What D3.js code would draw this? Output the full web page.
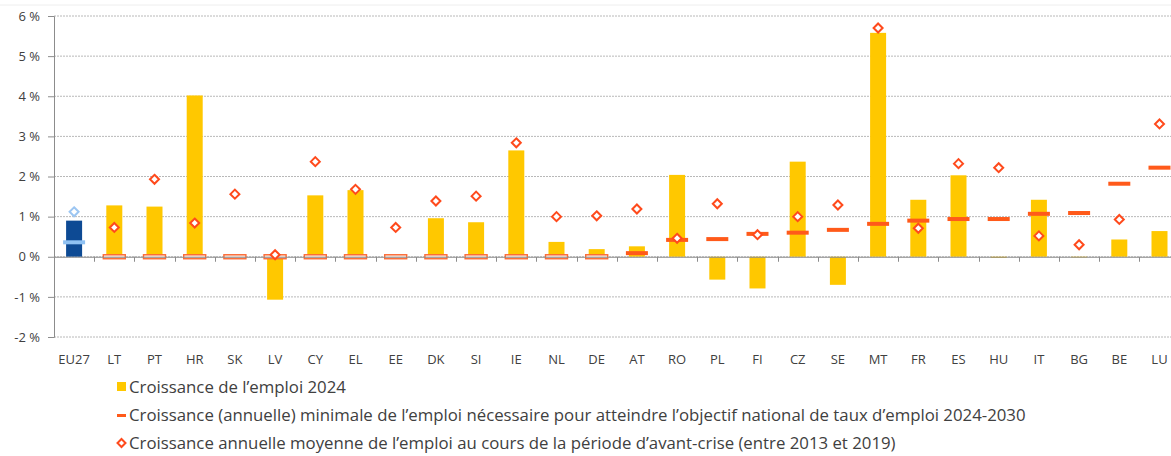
<!DOCTYPE html>
<html>
<head>
<meta charset="utf-8">
<script src="https://cdn.jsdelivr.net/npm/d3@7"></script>
<style>
  body { margin: 0; background: #fff; }
  text { font-family: "Open Sans", sans-serif; fill: #404040; }
</style>
</head>
<body>
<div id="chart"></div>
<script>
var countries = ["EU27","LT","PT","HR","SK","LV","CY","EL","EE","DK","SI","IE","NL","DE","AT","RO","PL","FI","CZ","SE","MT","FR","ES","HU","IT","BG","BE","LU"];
// croissance de l'emploi 2024
var growth2024 = [0.9,1.28,1.25,4.02,0,-1.07,1.53,1.66,0,0.96,0.86,2.65,0.37,0.19,0.26,2.04,-0.57,-0.79,2.37,-0.70,5.58,1.42,2.03,-0.03,1.42,-0.02,0.43,0.64];
// croissance minimale nécessaire
var required = [0.36,0,0,0,0,0,0,0,0,0,0,0,0,0,0.09,0.42,0.44,0.57,0.60,0.67,0.82,0.90,0.94,0.94,1.07,1.09,1.82,2.22];
// croissance moyenne 2013-2019
var preCrisis = [1.12,0.73,1.93,0.84,1.56,0.05,2.37,1.68,0.73,1.39,1.51,2.84,1.0,1.02,1.19,0.46,1.32,0.55,1.0,1.29,5.70,0.71,2.32,2.22,0.52,0.30,0.93,3.31];
var yTicks = [-2,-1,0,1,2,3,4,5,6];
var legendLabels = [
  "Croissance de l\u2019emploi 2024",
  "Croissance (annuelle) minimale de l\u2019emploi n\u00e9cessaire pour atteindre l\u2019objectif national de taux d\u2019emploi 2024-2030",
  "Croissance annuelle moyenne de l\u2019emploi au cours de la p\u00e9riode d\u2019avant-crise (entre 2013 et 2019)"
];

var width = 1171, height = 456;
var left = 54;

var svg = d3.select("#chart").append("svg").attr("width", width).attr("height", height);

var y = d3.scaleLinear().domain([-2, 6]).range([337, 16]);
var x = d3.scaleBand().domain(countries).range([left, left + 28 * 40.2]);

var data = countries.map(function(c, i) {
  return {c: c, g: growth2024[i], r: required[i], p: preCrisis[i], eu: c == "EU27"};
});

// frame line on top
svg.append("line").attr("x1", 0).attr("x2", width).attr("y1", 5).attr("y2", 5)
  .attr("stroke", "#eeeeee");

// gridlines
svg.selectAll("line.grid").data(yTicks).enter().append("line")
  .attr("class", "grid")
  .attr("x1", left).attr("x2", width)
  .attr("y1", function(d) { return y(d); }).attr("y2", function(d) { return y(d); })
  .attr("stroke", "#b8b8b8").attr("stroke-dasharray", "2,1");

// y axis
var yAxis = d3.axisLeft(y).tickValues(yTicks).tickSize(6).tickPadding(8)
  .tickFormat(function(d) { return d + " %"; });
var ya = svg.append("g").attr("transform", "translate(" + left + ",0)").call(yAxis);
ya.select(".domain").attr("stroke", "#8c8c8c");
ya.selectAll(".tick line").attr("stroke", "#8c8c8c");
ya.selectAll(".tick text").attr("font-size", 13).attr("fill", "#404040").attr("font-family", "Open Sans");

// bars
svg.selectAll("rect.bar").data(data).enter().append("rect")
  .attr("class", "bar")
  .attr("x", function(d) { return x(d.c) + x.bandwidth() / 2 - 8; })
  .attr("width", 16)
  .attr("y", function(d) { return y(Math.max(0, d.g)); })
  .attr("height", function(d) { return Math.abs(y(d.g) - y(0)); })
  .attr("fill", function(d) { return d.eu ? "#0d4a94" : "#ffc800"; });

// required growth dashes
svg.selectAll("rect.req").data(data).enter().append("rect")
  .attr("class", "req")
  .attr("x", function(d) { return x(d.c) + x.bandwidth() / 2 - 11; })
  .attr("width", 22)
  .attr("y", function(d) { return y(d.r) - 2; })
  .attr("height", 4)
  .attr("fill", function(d) { return d.eu ? "#8fc1f2" : (d.r == 0 ? "#fbe6dc" : "#ff5a1a"); })
  .attr("stroke", function(d) { return d.r == 0 && !d.eu ? "#fb6a35" : "none"; })
  .attr("stroke-width", 1.4);

// x axis at zero
var xAxis = d3.axisBottom(x).tickSize(0).tickFormat("");
var xa = svg.append("g").attr("transform", "translate(0," + y(0) + ")").call(xAxis);
xa.select(".domain").attr("stroke", "#8c8c8c").attr("d", "M" + left + ",0.5H" + width);
svg.selectAll("line.xtick").data(countries.slice(1)).enter().append("line")
  .attr("class", "xtick")
  .attr("x1", function(d) { return Math.round(x(d)) + 0.5; })
  .attr("x2", function(d) { return Math.round(x(d)) + 0.5; })
  .attr("y1", y(0)).attr("y2", y(0) + 5)
  .attr("stroke", "#8c8c8c");

// diamonds
svg.selectAll("path.pre").data(data).enter().append("path")
  .attr("class", "pre")
  .attr("transform", function(d) { return "translate(" + (x(d.c) + x.bandwidth() / 2) + "," + y(d.p) + ")"; })
  .attr("d", "M0,-4.5L4.5,0L0,4.5L-4.5,0Z")
  .attr("fill", "#fff")
  .attr("stroke", function(d) { return d.eu ? "#9cc6f2" : "#ff4a1c"; })
  .attr("stroke-width", 2);

// category labels
svg.selectAll("text.cat").data(countries).enter().append("text")
  .attr("class", "cat")
  .attr("x", function(d) { return x(d) + x.bandwidth() / 2; })
  .attr("y", 364)
  .attr("text-anchor", "middle")
  .attr("font-size", 13)
  .text(function(d) { return d; });

// legend
var lg = svg.append("g");
var rowsY = [387, 415, 443];
lg.append("rect").attr("x", 117).attr("y", rowsY[0] - 5).attr("width", 9).attr("height", 9).attr("fill", "#ffc800");
lg.append("rect").attr("x", 117).attr("y", rowsY[1] - 1).attr("width", 9).attr("height", 3).attr("fill", "#ff5a1a");
lg.append("path").attr("transform", "translate(121.5," + rowsY[2] + ")")
  .attr("d", "M0,-4L4,0L0,4L-4,0Z").attr("fill", "#fff").attr("stroke", "#ff4a1c").attr("stroke-width", 2);
lg.selectAll("text").data(legendLabels).enter().append("text")
  .attr("x", 129)
  .attr("y", function(d, i) { return rowsY[i] + 6; })
  .attr("font-size", 16.8)
  .text(function(d) { return d; });
</script>
</body>
</html>
